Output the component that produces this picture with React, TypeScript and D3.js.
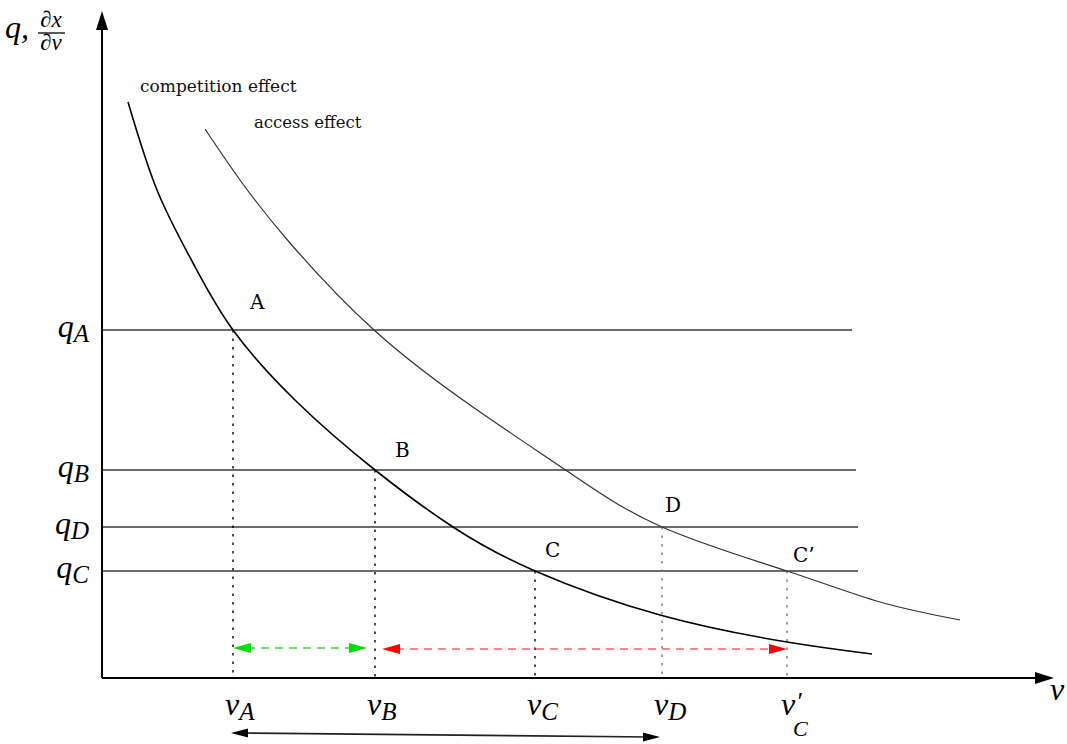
import React from "react";
import * as d3 from "d3";

const W = 1067;
const H = 744;

// Model units: v (horizontal), q (vertical)
const competitionV = [0.26, 0.55, 0.91, 1.31, 1.95, 2.73, 3.51, 4.33, 5.58, 6.85, 7.70];
const competitionQ = [5.76, 4.88, 4.15, 3.48, 2.76, 2.08, 1.51, 1.07, 0.63, 0.36, 0.24];
const accessV = [1.03, 1.38, 1.88, 2.72, 3.68, 4.65, 5.60, 6.85, 7.78, 8.58];
const accessQ = [5.49, 4.98, 4.35, 3.48, 2.73, 2.07, 1.51, 1.07, 0.76, 0.58];

const qNames = ["A", "B", "D", "C"];
const qValues = [3.48, 2.08, 1.51, 1.07];
const qLineEnds = [7.50, 7.54, 7.56, 7.56];

const vNames = ["A", "B", "C", "D", "C'"];
const vValues = [1.31, 2.73, 4.33, 5.60, 6.85];
const vHeights = [3.48, 2.08, 1.07, 1.51, 1.07];
const vDotColors = ["#000", "#000", "#000", "#777", "#777"];

const pointNames = ["A", "B", "C", "D", "C’"];
const pointV = [1.31, 2.73, 4.33, 5.60, 6.85];
const pointQ = [3.48, 2.08, 1.07, 1.51, 1.07];

const greenArrow = { from: 1.31, to: 2.65, q: 0.30 };
const redArrow = { from: 2.80, to: 6.85, q: 0.29 };
const bottomArrow = { from: 1.29, to: 5.58, q1: -0.55, q2: -0.59 };

// layout (pixel offsets of the point labels)
const pointLabelDx = [17, 20, 10, 3, 6];
const pointLabelDy = [-21, -13, -14, -15, -9];

const x = d3.scaleLinear().domain([0, 9.5]).range([102, 1052]);
const y = d3.scaleLinear().domain([0, 6.68]).range([678, 10]);

const serif = "'DejaVu Serif', serif";
const math = "'Liberation Serif', 'Times New Roman', serif";

function Head({ tx, ty, dx, dy, len = 18, hw = 5, fill }: any) {
  const L = Math.hypot(dx, dy);
  const ux = dx / L, uy = dy / L;
  const bx = tx - ux * len, by = ty - uy * len;
  const px = -uy * hw, py = ux * hw;
  const pts = `${tx},${ty} ${bx + px},${by + py} ${bx - px},${by - py}`;
  return <polygon points={pts} fill={fill} />;
}

export default function App() {
  const line = d3.line<number[]>().x((d) => d[0]).y((d) => d[1]).curve(d3.curveNatural);
  const compPath = line(competitionV.map((v, i) => [x(v), y(competitionQ[i])]));
  const accPath = line(accessV.map((v, i) => [x(v), y(accessQ[i])]));

  const x0 = x(0), y0 = y(0);
  const xEnd = x.range()[1], yTop = y.range()[1];

  return (
    <svg width={W} height={H} style={{ display: "block", position: "absolute", left: 0, top: 0 }}>
      <rect width={W} height={H} fill="#fff" />
      {/* horizontal q lines */}
      {qValues.map((q, i) => (
        <line key={"q" + i} x1={x0} x2={x(qLineEnds[i])} y1={y(q)} y2={y(q)} stroke="#3a3a3a" strokeWidth={1.3} />
      ))}
      {/* vertical dotted lines */}
      {vValues.map((v, i) => (
        <line key={"v" + i} x1={x(v)} x2={x(v)} y1={y(vHeights[i])} y2={y0} stroke={vDotColors[i]} strokeWidth={1.4} strokeDasharray="2.5,6" />
      ))}
      {/* curves */}
      <path d={compPath || ""} fill="none" stroke="#000" strokeWidth={1.6} />
      <path d={accPath || ""} fill="none" stroke="#333" strokeWidth={1.2} />

      {/* axes */}
      <line x1={x0} y1={y0} x2={x0} y2={yTop + 10} stroke="#000" strokeWidth={2} />
      <Head tx={x0} ty={yTop + 1} dx={0} dy={-1} len={19} hw={6} fill="#000" />
      <line x1={x0} y1={y0} x2={xEnd - 10} y2={y0} stroke="#000" strokeWidth={2} />
      <Head tx={xEnd + 2} ty={y0} dx={1} dy={0} len={19} hw={6} fill="#000" />

      {/* green arrow */}
      <line x1={x(greenArrow.from) + 14} x2={x(greenArrow.to) - 14} y1={y(greenArrow.q)} y2={y(greenArrow.q)} stroke="#33dd33" strokeWidth={1.6} strokeDasharray="8,6" />
      <Head tx={x(greenArrow.from)} ty={y(greenArrow.q)} dx={-1} dy={0} fill="#00dd00" />
      <Head tx={x(greenArrow.to)} ty={y(greenArrow.q)} dx={1} dy={0} fill="#00dd00" />
      {/* red arrow */}
      <line x1={x(redArrow.from) + 14} x2={x(redArrow.to) - 14} y1={y(redArrow.q)} y2={y(redArrow.q)} stroke="#ff6060" strokeWidth={1.6} strokeDasharray="8,6" />
      <Head tx={x(redArrow.from)} ty={y(redArrow.q)} dx={-1} dy={0} fill="#f00" />
      <Head tx={x(redArrow.to)} ty={y(redArrow.q)} dx={1} dy={0} fill="#f00" />
      {/* bottom arrow */}
      <line x1={x(bottomArrow.from) + 10} x2={x(bottomArrow.to) - 10} y1={y(bottomArrow.q1)} y2={y(bottomArrow.q2)} stroke="#222" strokeWidth={1.6} />
      <Head tx={x(bottomArrow.from)} ty={y(bottomArrow.q1)} dx={-1} dy={0} len={17} hw={4.5} fill="#000" />
      <Head tx={x(bottomArrow.to)} ty={y(bottomArrow.q2)} dx={1} dy={0} len={17} hw={4.5} fill="#000" />

      {/* curve labels */}
      <text x={140} y={92} fontFamily={serif} fontSize={17} fill="#111">competition effect</text>
      <text x={254} y={128} fontFamily={serif} fontSize={16.5} fill="#111">access effect</text>

      {/* point labels */}
      {pointNames.map((n, i) => (
        <text key={"p" + i} x={x(pointV[i]) + pointLabelDx[i]} y={y(pointQ[i]) + pointLabelDy[i]} fontFamily={serif} fontSize={20} fill="#000">{n}</text>
      ))}

      {/* q tick labels */}
      {qNames.map((n, i) => (
        <text key={"ql" + i} x={89} y={y(qValues[i]) + 7} textAnchor="end" fontFamily={math} fontStyle="italic" fill="#000">
          <tspan fontSize={32}>q</tspan>
          <tspan fontSize={25} dy={5}>{n}</tspan>
        </text>
      ))}

      {/* v tick labels */}
      {vNames.map((n, i) =>
        n === "C'" ? (
          <g key={"vl" + i}>
            <text x={x(vValues[i]) - 6} y={y0 + 37} fontFamily={math} fontStyle="italic" fontSize={32} fill="#000">v</text>
            <text x={x(vValues[i]) + 9} y={y0 + 32} fontFamily={math} fontStyle="italic" fontSize={26} fill="#000">′</text>
            <text x={x(vValues[i]) + 6} y={y0 + 58} fontFamily={math} fontStyle="italic" fontSize={22} fill="#000">C</text>
          </g>
        ) : (
          <text key={"vl" + i} x={x(vValues[i]) - 8} y={y0 + 37} fontFamily={math} fontStyle="italic" fill="#000">
            <tspan fontSize={32}>v</tspan>
            <tspan fontSize={25} dy={5}>{n}</tspan>
          </text>
        )
      )}

      {/* axis titles */}
      <text x={xEnd - 2} y={y0 + 22} fontFamily={math} fontStyle="italic" fontSize={32} fill="#000">v</text>
      <text x={5} y={38} fontFamily={math} fontStyle="italic" fontSize={32} fill="#000">q,</text>
      <text x={51} y={27} textAnchor="middle" fontFamily={math} fontStyle="italic" fontSize={23} fill="#000">∂x</text>
      <line x1={38} x2={65} y1={33} y2={33} stroke="#000" strokeWidth={1.3} />
      <text x={51} y={50} textAnchor="middle" fontFamily={math} fontStyle="italic" fontSize={23} fill="#000">∂v</text>
    </svg>
  );
}
